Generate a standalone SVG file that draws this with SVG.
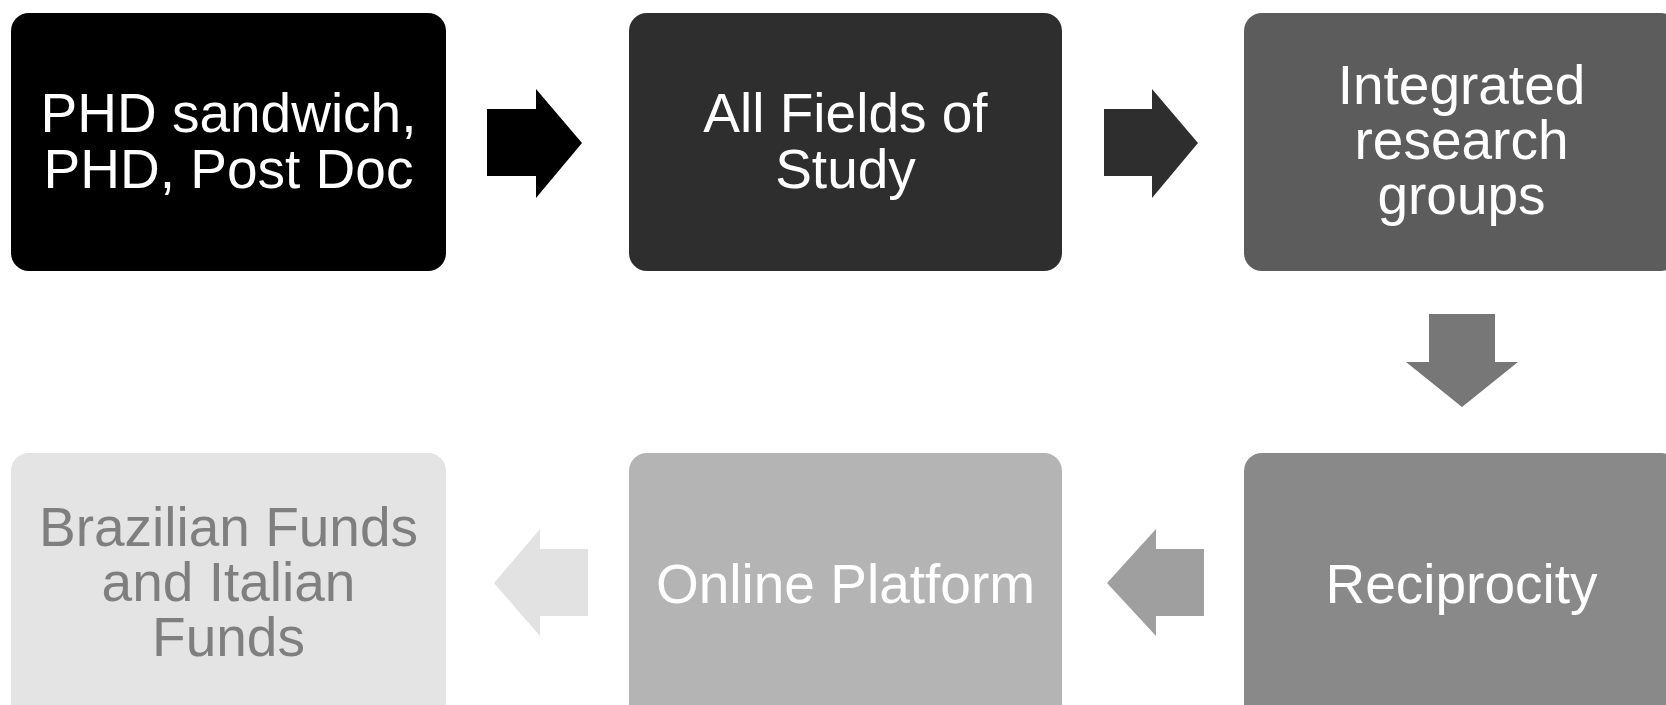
<svg xmlns="http://www.w3.org/2000/svg" width="1666" height="705" viewBox="0 0 1666 705">
<style>
.box{rx:18;ry:18}
.t{font-family:"Liberation Sans",Arial,sans-serif;font-size:55px;text-anchor:middle;fill:#ffffff}
.tg{fill:#7f7f7f}
</style>
<rect width="1666" height="705" fill="#ffffff"/>
<g id="connectors">
<polygon id="a1" points="487,109 536,109 536,89 582,143 536,198 536,176 487,176" fill="#000000"/>
<polygon id="a2" points="1104,109 1152,109 1152,89 1198,143 1152,198 1152,176 1104,176" fill="#2e2e2e"/>
<polygon id="a3" points="1429,314 1495,314 1495,362 1518,362 1462,407 1406,362 1429,362" fill="#777777"/>
<polygon id="a4" points="1204,549 1156,549 1156,529 1107,583 1156,636 1156,616 1204,616" fill="#9f9f9f"/>
<polygon id="a5" points="588,549 540,549 540,529 494,583 540,636 540,616 588,616" fill="#e2e2e2"/>
</g>
<g id="n1">
<rect class="box" x="11" y="13" width="435" height="258" fill="#000000"/>
<text class="t"><tspan x="228.5" y="132">PHD sandwich,</tspan><tspan x="228.5" y="188">PHD, Post Doc</tspan></text>
</g>
<g id="n2">
<rect class="box" x="629" y="13" width="433" height="258" fill="#2e2e2e"/>
<text class="t"><tspan x="845.5" y="132">All Fields of</tspan><tspan x="845.5" y="188">Study</tspan></text>
</g>
<g id="n3">
<rect class="box" x="1244" y="13" width="435" height="258" fill="#5c5c5c"/>
<text class="t"><tspan x="1461.5" y="104">Integrated</tspan><tspan x="1461.5" y="159">research</tspan><tspan x="1461.5" y="214">groups</tspan></text>
</g>
<g id="n4">
<rect class="box" x="1244" y="453" width="435" height="270" fill="#898989"/>
<text class="t" x="1461.5" y="603">Reciprocity</text>
</g>
<g id="n5">
<rect class="box" x="629" y="453" width="433" height="270" fill="#b4b4b4"/>
<text class="t" x="845.5" y="603">Online Platform</text>
</g>
<g id="n6">
<rect class="box" x="11" y="453" width="435" height="270" fill="#e4e4e4"/>
<text class="t tg"><tspan x="228.5" y="546">Brazilian Funds</tspan><tspan x="228.5" y="601">and Italian</tspan><tspan x="228.5" y="656">Funds</tspan></text>
</g>
</svg>
